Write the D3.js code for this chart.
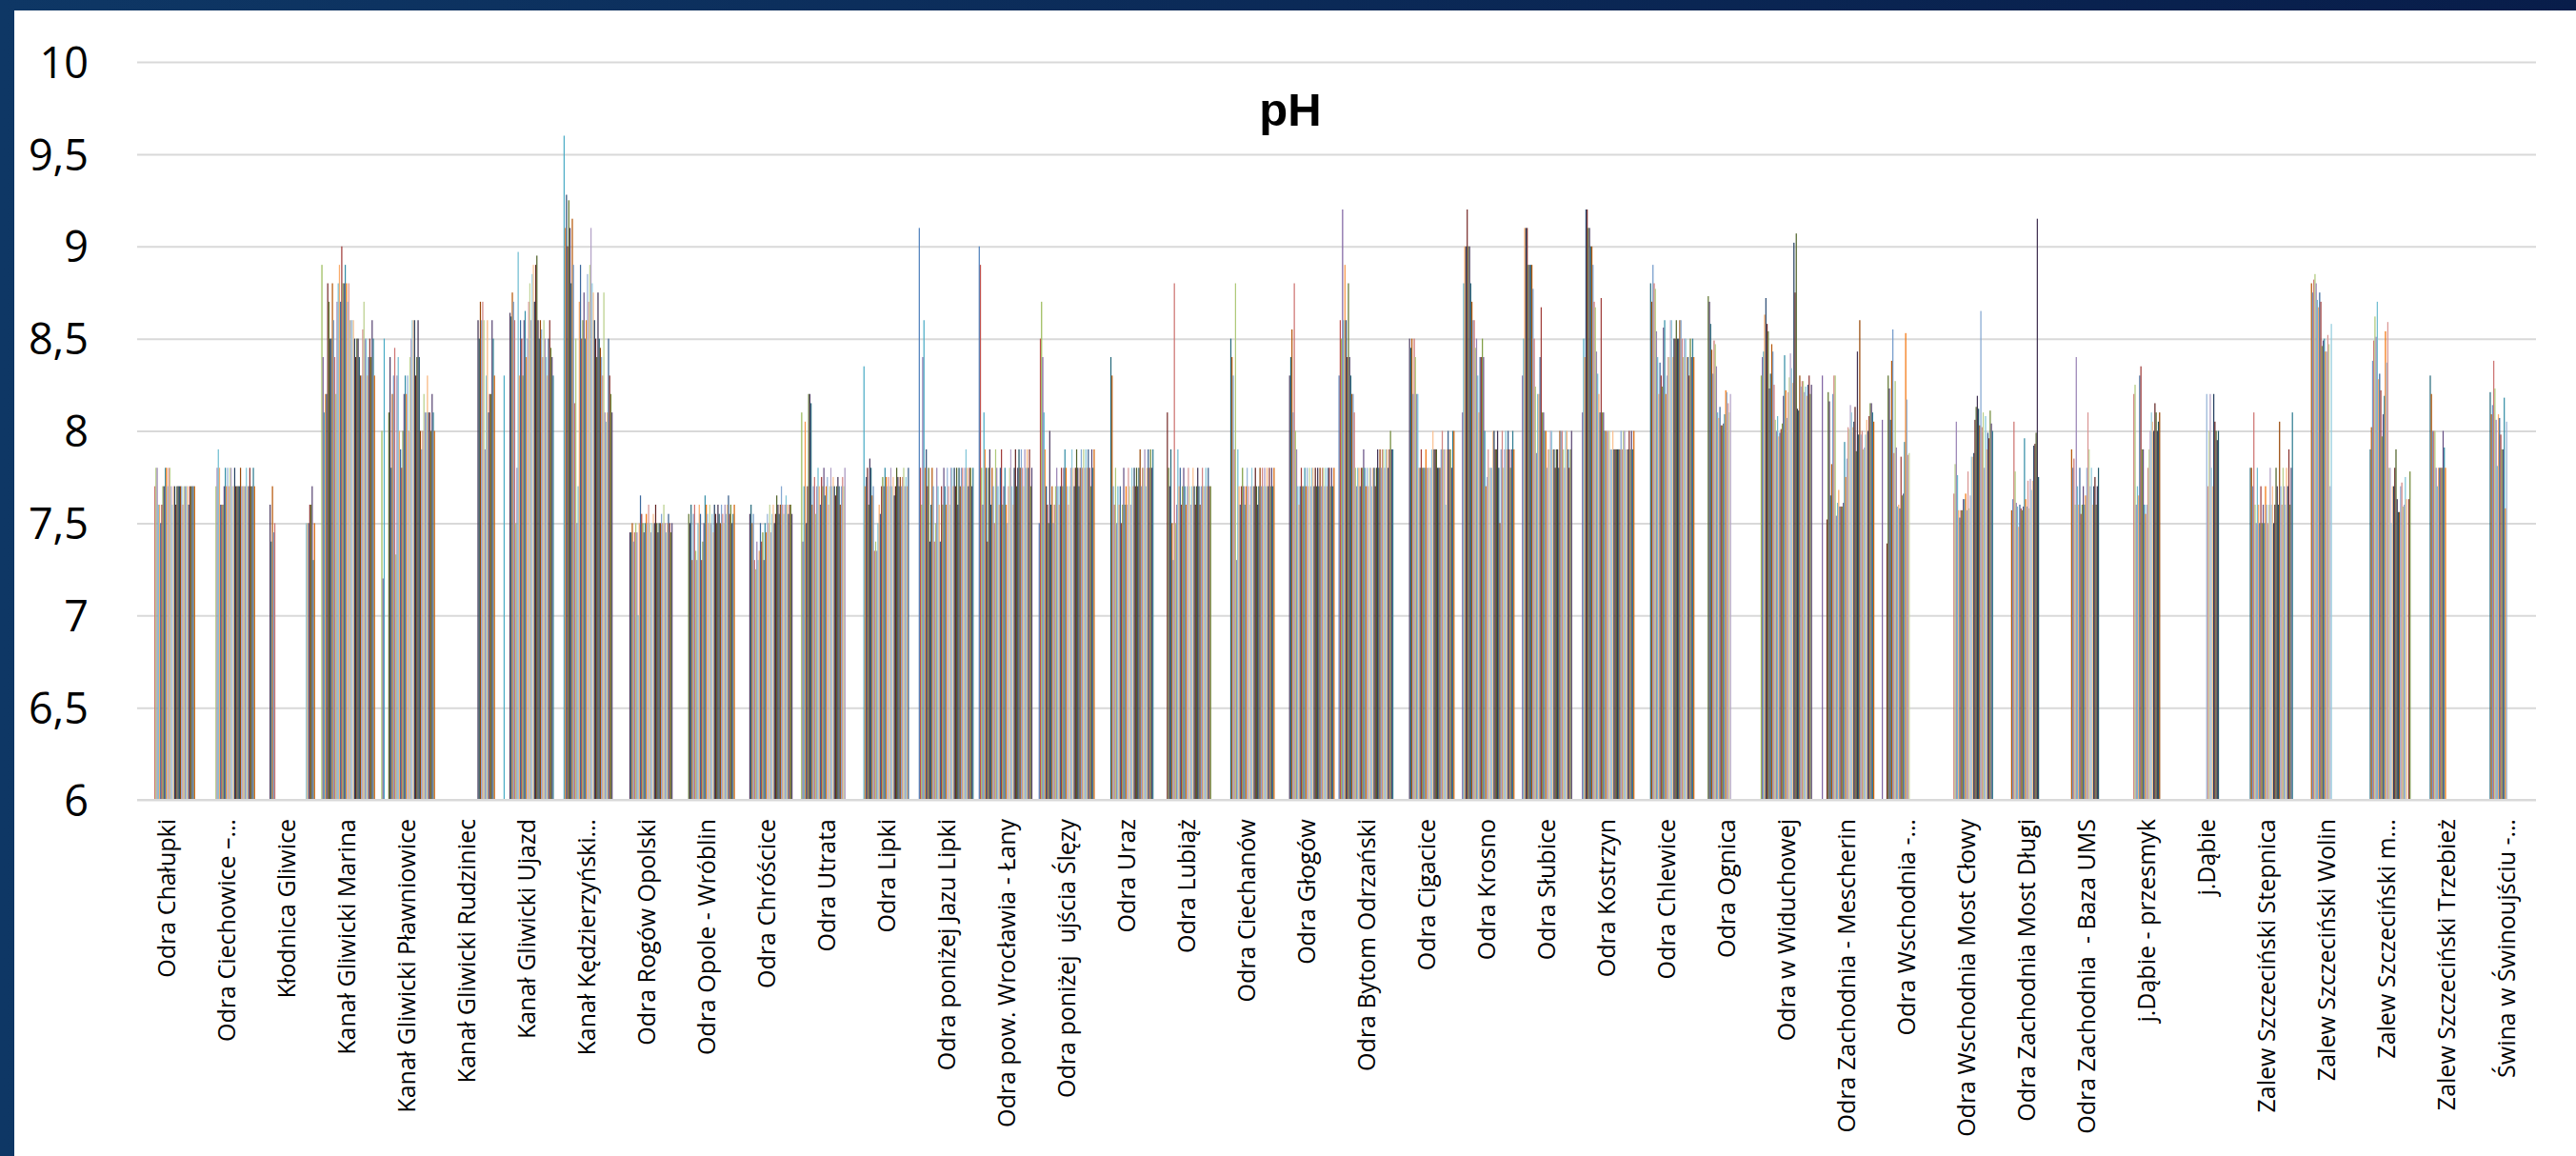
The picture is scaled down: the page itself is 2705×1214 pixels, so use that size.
<!DOCTYPE html>
<html>
<head>
<meta charset="utf-8">
<script src="https://cdn.jsdelivr.net/npm/d3@7"></script>
<style>
  html, body { margin: 0; padding: 0; background: #ffffff; }
  svg { display: block; }
  text { white-space: pre; }
</style>
</head>
<body>
<svg id="chart" width="2705" height="1214"></svg>
<script>
// ---------------- DATA ----------------
const categories = [
  "Odra Chałupki", "Odra Ciechowice –…", "Kłodnica Gliwice", "Kanał Gliwicki Marina",
  "Kanał Gliwicki Pławniowice", "Kanał Gliwicki Rudziniec", "Kanał Gliwicki Ujazd", "Kanał Kędzierzyński…",
  "Odra Rogów Opolski", "Odra Opole - Wróblin", "Odra Chróścice", "Odra Utrata",
  "Odra Lipki", "Odra poniżej Jazu Lipki", "Odra pow. Wrocławia - Łany", "Odra poniżej  ujścia Ślęzy",
  "Odra Uraz", "Odra Lubiąż", "Odra Ciechanów", "Odra Głogów",
  "Odra Bytom Odrzański", "Odra Cigacice", "Odra Krosno", "Odra Słubice",
  "Odra Kostrzyn", "Odra Chlewice", "Odra Ognica", "Odra w Widuchowej",
  "Odra Zachodnia - Mescherin", "Odra Wschodnia -…", "Odra Wschodnia Most Cłowy", "Odra Zachodnia Most Długi",
  "Odra Zachodnia  - Baza UMS", "j.Dąbie - przesmyk", "j.Dąbie", "Zalew Szczeciński Stepnica",
  "Zalew Szczeciński Wolin", "Zalew Szczeciński m…", "Zalew Szczeciński Trzebież", "Świna w Świnoujściu -…"
];

const seriesCount = 48;   // number of measurement series per station

// index of the first series shown for each station
const seriesOffset = [13, 14, 9, 2, 2, 33, 4, 4, 9, 8, 9, 2, 4, 0, 0, 0, 10, 7, 10, 9,
                      0, 9, 3, 3, 3, 10, 8, 2, 3, 3, 13, 11, 11, 13, 24, 10, 11, 10, 10, 10];

// pH values per station (consecutive series starting at seriesOffset)
const phValues = [
  [7.7,7.8,7.8,7.6,7.6,7.5,7.6,7.7,7.7,7.8,7.8,7.7,7.8,7.8,7.7,7.6,7.7,7.7,7.6,7.7,7.7,7.7,7.7,7.7,7.6,7.7,7.7,7.7,7.7,7.6,7.7,7.7,7.7,7.7,7.7],
  [7.7,7.8,7.9,7.8,7.6,7.6,7.6,7.7,7.8,7.7,7.8,7.7,7.8,7.8,7.7,7.7,7.8,7.7,7.7,7.7,7.7,7.8,7.7,7.7,7.7,7.7,7.8,7.7,7.7,7.8,7.7,7.7,7.8,7.7],
  [7.6,7.4,7.7,7.45,7.5,null,null,null,null,null,null,null,null,null,null,null,null,null,null,null,null,null,null,null,null,null,null,null,null,null,null,7.5,7.5,7.5,7.6,7.6,7.7,7.3,7.5],
  [8.9,8.4,8.1,8.2,8.2,8.8,8.7,8.5,8.5,8.8,8.6,8.4,8.2,8.7,8.8,8.9,8.7,9.0,8.8,8.8,8.9,8.8,8.7,8.8,8.6,8.6,8.6,8.6,8.5,8.4,8.5,8.5,8.4,8.3,8.3,8.55,8.7,8.5,8.5,8.3,8.4,8.5,8.4,8.6,8.5,8.3],
  [8.0,7.2,8.5,null,null,null,8.1,8.4,7.8,8.2,8.3,8.45,7.33,8.3,8.4,8.0,7.9,7.8,8.0,8.2,8.3,8.2,8.3,8.0,8.4,8.5,8.6,8.6,8.6,8.3,8.4,8.6,8.4,8.0,7.9,8.0,8.2,8.1,8.1,8.3,8.1,8.1,8.0,8.2,8.1,8.0],
  [8.6,8.5,8.7,8.6,8.7,8.6,7.9,8.3,8.6,8.1,8.2,8.2,8.6,8.5,8.3],
  [8.3,null,null,null,null,8.64,8.62,8.75,8.7,8.6,7.5,7.8,8.97,8.3,8.6,8.5,8.3,8.6,8.65,8.4,8.5,8.7,8.8,8.6,8.85,8.9,8.7,8.9,8.95,8.6,8.5,8.6,8.55,8.4,8.6,8.5,8.4,8.3,8.5,8.6,8.45,8.4,8.3],
  [9.6,9.1,9.28,9.0,9.25,9.1,8.8,9.15,8.9,8.15,8.5,7.5,7.7,8.7,8.9,8.5,8.6,8.75,8.5,8.6,8.85,8.7,8.9,9.1,8.8,8.75,8.6,8.5,8.4,8.75,8.5,8.45,8.4,8.3,8.75,8.1,8.05,8.1,8.5,8.3,8.2,8.1],
  [7.45,7.45,7.5,7.4,7.45,7.5,7.45,7.0,7.5,7.65,7.55,7.5,7.45,7.5,7.55,7.5,7.6,7.5,7.45,7.5,7.55,7.5,7.6,7.5,7.45,7.5,7.5,7.55,7.5,7.6,7.5,7.45,7.5,7.55,7.5,7.45,7.5],
  [7.55,7.5,7.6,7.3,7.55,7.6,7.35,7.3,7.5,7.6,7.55,7.3,7.4,7.5,7.65,7.6,7.55,7.5,7.6,7.5,7.55,7.45,7.6,7.55,7.5,7.6,7.55,7.5,7.6,7.55,7.5,7.6,7.55,7.6,7.65,7.55,7.6,7.5,7.55,7.6],
  [7.55,7.6,7.5,7.55,7.3,7.25,7.4,7.3,7.35,7.5,7.4,7.45,7.3,7.5,7.45,7.55,7.5,7.6,7.45,7.55,7.6,7.5,7.55,7.65,7.6,7.55,7.6,7.7,7.6,7.55,7.6,7.65,7.6,7.55,7.6,7.6,7.55],
  [8.1,7.4,7.7,8.05,7.5,7.7,8.2,8.2,8.15,7.6,7.7,7.75,7.55,7.7,7.8,7.7,7.6,7.75,7.7,7.8,7.65,7.7,7.75,7.6,7.7,7.8,7.7,7.75,7.7,7.65,7.7,7.75,7.7,7.6,7.7,7.75,7.7,7.8],
  [8.35,7.7,7.75,7.8,7.6,7.85,7.8,7.65,7.7,7.35,7.4,7.35,7.5,7.6,7.55,7.7,7.75,7.7,7.8,7.75,7.7,7.75,7.7,7.8,7.7,7.75,7.65,7.7,7.8,7.75,7.7,7.75,7.7,7.75,7.8,7.7,7.75,7.7,7.8],
  [9.1,7.8,7.6,8.4,8.6,7.8,7.9,7.7,7.8,7.4,7.6,7.8,7.7,7.4,7.5,7.8,7.7,7.6,7.4,7.7,7.6,7.8,7.7,7.6,7.8,7.7,7.6,7.8,7.8,7.7,7.8,7.7,7.8,7.6,7.8,7.7,7.8,7.8,7.7,7.8,7.9,7.8,7.7,7.8,7.8,7.7,7.8],
  [9.0,8.9,7.8,7.6,8.1,7.9,7.8,7.4,7.8,7.9,7.6,7.8,7.7,7.5,7.9,7.8,7.7,7.6,7.8,7.9,7.6,7.7,7.8,7.6,7.5,7.7,7.8,7.9,7.7,7.6,7.8,7.9,7.7,7.8,7.9,7.8,7.9,7.8,7.7,7.9,7.8,7.9,7.8,7.9,7.7,7.8],
  [7.5,8.5,8.7,8.4,8.1,7.9,7.7,7.6,7.5,8.0,7.6,7.7,7.5,7.6,7.7,7.8,7.7,7.6,7.7,7.8,7.7,7.8,7.9,7.8,7.7,7.6,7.7,7.8,7.9,7.8,7.7,7.8,7.9,7.8,7.7,7.8,7.9,7.8,7.9,7.8,7.9,7.8,7.9,7.8,7.7,7.9,7.8,7.9],
  [8.4,8.3,7.7,7.6,7.8,7.5,7.7,7.6,7.7,7.5,7.6,7.8,7.6,7.7,7.6,7.8,7.7,7.6,7.8,7.7,7.8,7.7,7.8,7.7,7.8,7.9,7.7,7.8,7.8,7.9,7.7,7.8,7.9,7.8,7.9,7.8,7.9],
  [8.1,7.8,7.7,7.9,7.5,7.3,8.8,7.5,7.6,7.9,7.7,7.8,7.6,7.7,7.8,7.7,7.6,7.7,7.8,7.7,7.6,7.7,7.8,7.7,7.6,7.7,7.8,7.7,7.6,7.7,7.8,7.7,7.7,7.8,7.7,7.8,7.7,7.7],
  [8.5,8.4,8.3,7.9,8.8,7.3,7.9,7.7,7.6,7.7,7.8,7.7,7.6,7.7,7.8,7.7,7.6,7.7,7.8,7.7,7.7,7.8,7.7,7.6,7.7,7.8,7.7,7.8,7.7,7.8,7.7,7.8,7.7,7.8,7.7,7.8,7.7,7.8],
  [8.3,8.4,8.55,8.1,8.8,8.0,7.9,7.7,7.6,7.7,7.8,7.7,7.7,7.8,7.7,7.8,7.7,7.8,7.7,7.8,7.8,7.7,7.8,7.7,7.8,7.7,7.8,7.7,7.8,7.8,7.7,7.8,7.7,7.8,7.8,7.7,7.8,7.7,7.8],
  [8.3,8.6,8.5,9.2,8.6,8.9,8.6,8.4,8.8,8.4,8.3,8.2,8.2,8.1,7.8,7.7,7.8,7.8,7.7,7.8,7.8,7.9,7.8,7.7,7.8,7.7,7.8,7.8,7.7,7.8,7.8,7.7,7.8,7.9,7.8,7.9,7.8,7.9,7.9,7.8,7.9,7.9,7.8,7.9,8.0,7.9,7.9],
  [8.5,8.45,8.5,8.2,8.5,8.4,8.2,8.2,7.8,7.8,7.9,7.8,7.8,7.8,7.9,7.8,7.8,7.8,7.8,7.9,8.0,7.9,7.9,7.9,7.8,7.8,7.8,7.9,8.0,7.9,7.9,7.6,7.9,8.0,7.9,7.9,7.8,8.0,8.0],
  [8.1,8.8,9.0,9.0,9.2,9.0,9.0,8.8,8.7,8.6,8.6,8.45,8.5,8.3,8.1,8.4,8.4,8.5,8.4,8.0,7.7,7.75,7.9,7.8,7.8,7.8,8.0,8.0,7.9,7.9,8.0,7.8,7.5,7.9,8.0,7.8,7.9,8.0,7.9,8.0,7.9,7.8,7.9,8.0,7.9],
  [8.3,8.5,9.1,9.1,9.1,8.9,8.9,8.9,8.9,8.77,8.5,8.24,7.88,8.2,8.2,8.4,8.67,8.1,8.1,8.0,8.0,7.8,7.9,7.9,8.0,8.0,7.9,7.9,7.8,7.9,7.9,7.8,8.0,8.0,8.0,7.9,7.8,8.0,8.0,7.9,7.8,7.9,8.0],
  [8.1,8.5,8.4,9.2,9.2,9.1,9.1,9.0,9.0,8.9,8.7,8.67,8.43,8.31,8.2,8.1,8.72,8.1,8.1,8.0,8.0,8.0,8.0,8.0,7.9,7.9,8.0,7.9,7.9,7.9,7.9,7.9,7.9,8.0,7.9,8.0,8.0,7.9,7.9,7.9,8.0,7.9,8.0,7.9,8.0],
  [8.8,8.7,8.9,8.8,8.77,8.54,8.4,8.2,8.37,8.3,8.24,8.56,8.6,8.2,8.3,8.4,8.4,8.6,8.6,8.4,8.5,8.5,8.6,8.5,8.5,8.6,8.6,8.5,8.4,8.5,8.5,8.4,8.4,8.3,8.5,8.4,8.5,8.4],
  [8.73,8.7,8.58,8.44,8.31,8.49,8.47,8.35,8.1,8.07,8.13,8.03,8.03,8.04,8.09,8.22,8.21,8.15,8.1,8.2],
  [8.30,8.40,8.43,8.63,8.72,8.58,8.54,8.23,8.31,8.47,8.43,8.25,8.06,8.0,8.08,7.97,7.99,8.01,8.04,8.19,8.41,8.22,8.07,8.21,8.29,8.42,8.34,8.26,9.02,8.75,9.07,8.12,8.11,8.30,8.24,8.27,8.27,8.21,8.24,8.19,8.25,8.3,8.2,8.25],
  [8.3,null,null,null,7.52,8.21,8.16,7.65,7.82,8.2,8.3,8.3,7.54,7.61,7.68,7.59,7.59,7.59,7.61,7.94,7.75,7.85,8.02,8.01,8.14,8.1,8.02,8.05,8.13,7.89,8.43,7.98,8.6,7.98,8.0,7.9,7.91,7.98,8.06,8.0,8.08,8.15,8.15,8.1,8.05],
  [8.06,null,null,null,7.39,8.3,8.23,8.06,8.38,8.55,7.88,8.27,7.91,7.59,7.6,7.58,7.86,7.65,7.66,7.94,8.53,8.17,7.87,7.88],
  [7.66,7.82,8.05,7.76,7.57,7.53,7.57,7.57,7.63,7.63,7.66,7.57,7.78,7.58,7.65,7.86,7.86,7.88,8.06,8.13,8.19,8.12,8.03,8.65,8.02,8.1,7.8,8.08,7.9,7.99,7.96,8.11,8.04,8.0],
  [7.57,7.63,8.05,7.78,7.61,7.59,7.48,7.6,7.58,7.57,7.59,7.96,7.63,7.59,7.73,7.58,7.74,7.68,7.73,7.92,7.93,7.99,9.15,7.75],
  [7.9,7.8,7.85,7.6,8.4,7.7,7.6,7.8,7.55,7.6,7.7,7.6,7.65,7.8,8.1,7.9,7.7,7.8,7.6,7.7,7.75,7.6,7.7,7.8],
  [8.2,8.25,7.6,7.7,7.65,8.3,8.35,7.9,7.9,7.6,7.55,7.6,7.8,7.9,8.0,8.1,8.05,8.0,8.15,8.1,8.0,8.05,8.1],
  [8.2,7.7,8.0,8.2,7.8,7.7,8.2,8.05,8.0,7.95,8.0],
  [7.8,7.8,7.7,8.1,7.6,7.5,7.8,7.6,7.5,7.7,7.5,7.6,7.5,7.7,7.6,7.5,7.6,7.8,7.6,7.7,7.5,7.6,7.8,7.7,7.6,8.05,7.7,7.6,7.8,7.7,7.6,7.8,7.7,7.9,7.6,7.8,8.1],
  [8.8,8.75,8.82,8.85,8.8,8.71,8.67,8.75,8.70,8.46,8.49,8.5,8.43,8.43,8.52,8.47,7.7,8.58],
  [7.9,8.02,8.38,8.49,8.62,8.51,8.7,8.28,8.31,8.22,7.97,8.09,8.19,8.54,8.37,8.59,7.8,7.8,7.5,7.7,7.7,7.8,7.9,7.63,7.56,7.56,7.7,7.72,7.59,7.6,7.75,7.63,null,7.63,7.78],
  [8.3,8.2,8.0,8.0,8.0,7.8,7.7,7.8,7.8,7.8,7.8,8.0,7.91,7.8],
  [8.21,8.09,8.14,8.38,8.23,8.06,7.81,8.09,8.07,7.98,7.9,7.9,8.18,7.58,8.05]
];

const yTicks = [6, 6.5, 7, 7.5, 8, 8.5, 9, 9.5, 10];
const yTickLabels = ["6", "6,5", "7", "7,5", "8", "8,5", "9", "9,5", "10"];
const chartTitle = "pH";

// ---------------- DRAWING ----------------
const W = 2705, H = 1214;
const plot = { left: 144, right: 2663, top: 65, bottom: 840 };

const svg = d3.select("#chart");

// frame
const defs = svg.append("defs");
const g1 = defs.append("linearGradient").attr("id", "navy").attr("x1", "0").attr("x2", "1").attr("y1", "0").attr("y2", "0");
g1.append("stop").attr("offset", "0").attr("stop-color", "#0e3765");
g1.append("stop").attr("offset", "1").attr("stop-color", "#081d4a");
svg.append("rect").attr("x", 0).attr("y", 0).attr("width", W).attr("height", H).attr("fill", "url(#navy)");
svg.append("rect").attr("x", 15).attr("y", 11).attr("width", W - 15).attr("height", H - 11).attr("fill", "#ffffff");

// scales
const x0 = d3.scaleBand().domain(categories).range([plot.left, plot.right]).paddingInner(0.065).paddingOuter(0.0325);
const x1 = d3.scaleBand().domain(d3.range(seriesCount)).range([0, x0.bandwidth()]);
const y = d3.scaleLinear().domain([6, 10]).range([plot.bottom, plot.top]);

// Office 2007 theme colours with Excel's variations for many series
const accents = ["#4F81BD", "#C0504D", "#9BBB59", "#8064A2", "#4BACC6", "#F79646"];
const lumVariants = [[1, 0], [0.6, 0], [0.8, 0.2], [0.8, 0], [0.6, 0.4], [0.5, 0], [0.7, 0.3], [0.7, 0]];
function seriesColor(i) {
  const c = d3.hsl(accents[i % 6]);
  const v = lumVariants[Math.floor(i / 6) % lumVariants.length];
  c.l = Math.min(1, c.l * v[0] + v[1]);
  return c.formatHex();
}

// gridlines + y labels
const yAxis = d3.axisLeft(y).tickValues(yTicks)
  .tickFormat((d, i) => yTickLabels[i])
  .tickSizeInner(-(plot.right - plot.left)).tickSizeOuter(0).tickPadding(51);
const ya = svg.append("g").attr("transform", `translate(${plot.left},0)`).call(yAxis);
ya.select(".domain").remove();
ya.selectAll(".tick line").attr("stroke", "#d9d9d9").attr("stroke-width", 2);
ya.selectAll(".tick text")
  .attr("font-family", "'Open Sans', 'Noto Sans', sans-serif")
  .attr("font-size", 45).attr("fill", "#000").attr("dy", "0.36em");

// bars
const barData = [];
categories.forEach((cat, ci) => {
  phValues[ci].forEach((v, j) => {
    const s = seriesOffset[ci] + j;
    if (v == null || s >= seriesCount || v <= 6) return;
    barData.push({ cat, s, v });
  });
});
svg.append("g").selectAll("rect").data(barData).join("rect")
  .attr("x", d => x0(d.cat) + x1(d.s))
  .attr("width", x1.bandwidth())
  .attr("y", d => y(d.v))
  .attr("height", d => y(6) - y(d.v))
  .attr("fill", d => seriesColor(d.s));

// baseline
svg.append("line").attr("x1", plot.left).attr("x2", plot.right)
  .attr("y1", y(6)).attr("y2", y(6)).attr("stroke", "#d9d9d9").attr("stroke-width", 2);

// x labels
const xAxis = d3.axisBottom(x0).tickSize(0).tickPadding(0);
const xa = svg.append("g").attr("transform", `translate(0,${plot.bottom})`).call(xAxis);
xa.select(".domain").remove();
xa.selectAll(".tick text")
  .attr("font-family", "'Open Sans', 'Noto Sans', sans-serif")
  .attr("font-size", 25).attr("fill", "#000")
  .attr("text-anchor", "end")
  .attr("transform", "rotate(-90)")
  .attr("x", -20).attr("y", 0).attr("dy", "0.36em");

// title
svg.append("text").attr("x", 1355).attr("y", 132)
  .attr("text-anchor", "middle")
  .attr("font-family", "'Liberation Sans', Arial, sans-serif")
  .attr("font-weight", "bold").attr("font-size", 49).attr("fill", "#000")
  .text(chartTitle);
</script>
</body>
</html>
